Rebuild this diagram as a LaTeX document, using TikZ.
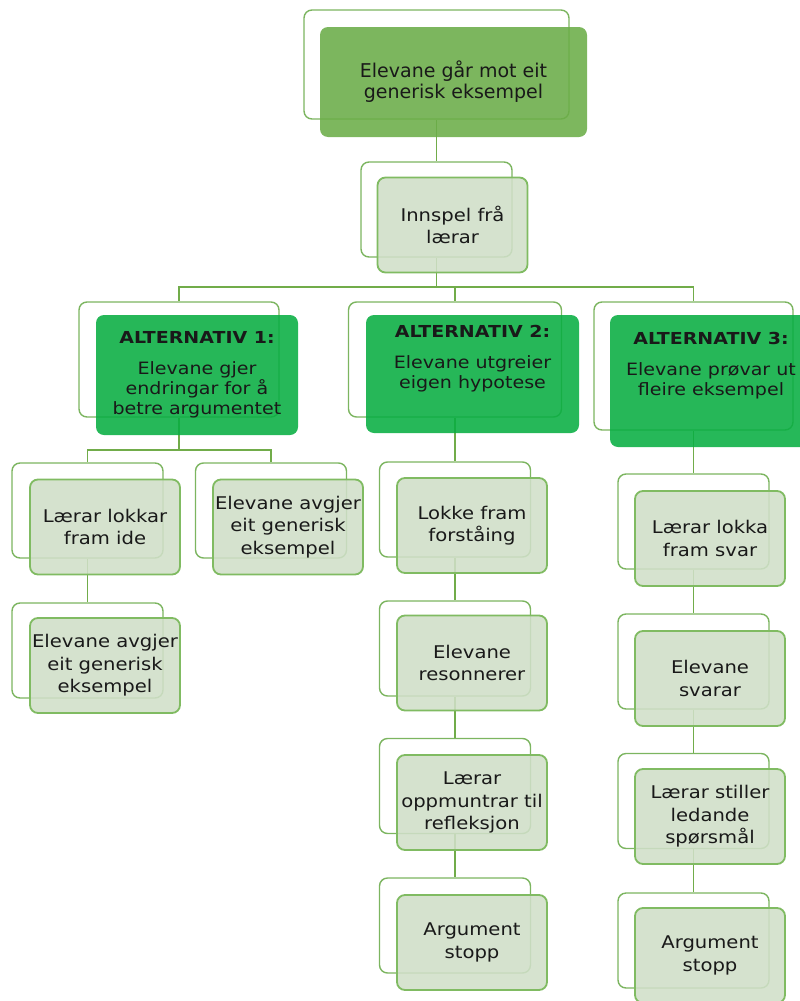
\documentclass[tikz,border=0pt]{standalone}
\usepackage{fontspec}
\setmainfont{DejaVu Sans}
\newfontfamily\boxfont{DejaVu Sans}[FakeStretch=1.12]
\newfontfamily\headfont{DejaVu Sans}[FakeStretch=1.15]
\pgfdeclarelayer{back}
\pgfsetlayers{back,main}

\definecolor{framegreen}{RGB}{124,181,96}
\definecolor{linkgreen}{RGB}{113,172,74}
\definecolor{topfill}{RGB}{107,173,72}
\definecolor{altfill}{RGB}{8,174,66}
\definecolor{softfill}{RGB}{208,223,200}
\definecolor{softedge}{RGB}{128,187,98}
\definecolor{ink}{RGB}{25,25,25}

\tikzset{
  frame/.style={draw=framegreen, line width=1.4pt, fill=white,
    rounded corners=8pt, inner sep=0pt},
  card/.style={rounded corners=8pt, inner sep=0pt, align=center,
    text=ink, fill opacity=0.88, text opacity=1},
  softcard/.style={card, fill=softfill, draw=softedge, line width=1.8pt,
    draw opacity=1, minimum width=150pt, minimum height=95pt,
    font=\boxfont\fontsize{17.5}{22.5}\selectfont},
  softframe/.style={frame, minimum width=151pt, minimum height=95pt},
  topcard/.style={card, fill=topfill},
  altcard/.style={card, fill=altfill},
  alttext/.style={anchor=north, inner sep=0pt, align=center, text=ink,
    font=\boxfont\fontsize{17}{20}\selectfont},
  link/.style={draw=linkgreen, line width=1.5pt},
}
\newcommand{\althead}[1]{{\headfont\bfseries\fontsize{16.5}{20}\selectfont #1}\\[11pt]}

\begin{document}
\begin{tikzpicture}[x=1pt,y=-1pt]
\useasboundingbox (0,0) rectangle (800,1001);

% top level
\node[frame, minimum width=265pt, minimum height=109pt] (topF) at (436.5,64.5) {};
\node[topcard, minimum width=267pt, minimum height=110pt,
  font=\fontsize{19}{21}\selectfont] (top) at (453.5,82)
  {Elevane går mot eit\\generisk eksempel};

% teacher input
\node[softframe] (innF) at (436.5,209.5) {};
\node[softcard] (inn) at (452.5,225) {Innspel frå\\lærar};

% three alternatives
\node[frame, minimum width=200pt, minimum height=115pt] (alt1F) at (179,359.5) {};
\node[altcard, minimum width=202pt, minimum height=120pt] (alt1) at (197,375) {};
\node[alttext] (alt1t) at ([yshift=-16pt]alt1.north)
  {\althead{ALTERNATIV 1:}Elevane gjer\\endringar for å\\betre argumentet};

\node[frame, minimum width=213pt, minimum height=115pt] (alt2F) at (455,359.5) {};
\node[altcard, minimum width=213pt, minimum height=118pt] (alt2) at (472.5,374) {};
\node[alttext] (alt2t) at ([yshift=-10pt]alt2.north)
  {\althead{ALTERNATIV 2:}Elevane utgreier\\eigen hypotese};

\node[frame, minimum width=199pt, minimum height=128pt] (alt3F) at (693.5,366) {};
\node[altcard, minimum width=202pt, minimum height=132pt] (alt3) at (711,381) {};
\node[alttext] (alt3t) at ([yshift=-17pt]alt3.north)
  {\althead{ALTERNATIV 3:}Elevane prøvar ut\\fleire eksempel};

% alternative 1 branch
\node[softframe] (a1c1F) at (87.5,510.5) {};
\node[softcard] (a1c1) at (105,527) {Lærar lokkar\\fram ide};
\node[softframe] (a1c2F) at (271,510.5) {};
\node[softcard] (a1c2) at (288,527) {Elevane avgjer\\eit generisk\\eksempel};
\node[softframe] (a1c3F) at (87.5,650.5) {};
\node[softcard] (a1c3) at (105,665.5) {Elevane avgjer\\eit generisk\\eksempel};

% alternative 2 branch
\node[softframe] (a2c1F) at (455,509.5) {};
\node[softcard] (a2c1) at (472,525.5) {Lokke fram\\forståing};
\node[softframe] (a2c2F) at (455,648.5) {};
\node[softcard] (a2c2) at (472,663) {Elevane\\resonnerer};
\node[softframe] (a2c3F) at (455,786) {};
\node[softcard] (a2c3) at (472,802.5) {Lærar\\oppmuntrar til\\refleksjon};
\node[softframe] (a2c4F) at (455,925.5) {};
\node[softcard] (a2c4) at (472,942.5) {Argument\\stopp};

% alternative 3 branch
\node[softframe] (a3c1F) at (693.5,521.5) {};
\node[softcard] (a3c1) at (710,538.5) {Lærar lokka\\fram svar};
\node[softframe] (a3c2F) at (693.5,661.5) {};
\node[softcard] (a3c2) at (710,678.5) {Elevane\\svarar};
\node[softframe] (a3c3F) at (693.5,801) {};
\node[softcard] (a3c3) at (710,816.5) {Lærar stiller\\ledande\\spørsmål};
\node[softframe] (a3c4F) at (693.5,940.5) {};
\node[softcard] (a3c4) at (710,955.5) {Argument\\stopp};

% connectors, behind the boxes
\begin{pgfonlayer}{back}
  \coordinate (busA) at (436.5,287);
  \coordinate (busB) at (179,450);
  \draw[link] (topF.south) -- (innF.north);
  \draw[link] (innF.south) -- (busA) -| (alt1F.north);
  \draw[link] (busA) -| (alt2F.north);
  \draw[link] (busA) -| (alt3F.north);
  \draw[link] (alt1F.south) -- (busB) -| (a1c1F.north);
  \draw[link] (busB) -| (a1c2F.north);
  \draw[link] (a1c1F.south) -- (a1c3F.north);
  \draw[link] (alt2F.south) -- (a2c1F.north);
  \draw[link] (a2c1F.south) -- (a2c2F.north);
  \draw[link] (a2c2F.south) -- (a2c3F.north);
  \draw[link] (a2c3F.south) -- (a2c4F.north);
  \draw[link] (alt3F.south) -- (a3c1F.north);
  \draw[link] (a3c1F.south) -- (a3c2F.north);
  \draw[link] (a3c2F.south) -- (a3c3F.north);
  \draw[link] (a3c3F.south) -- (a3c4F.north);
\end{pgfonlayer}
\end{tikzpicture}
\end{document}
